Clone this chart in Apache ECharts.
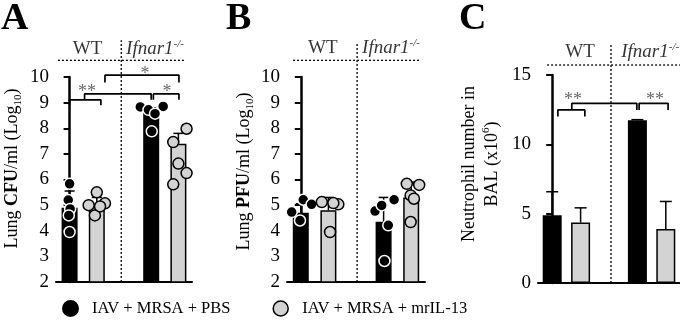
<!DOCTYPE html>
<html>
<head>
<meta charset="utf-8">
<script src="https://cdn.jsdelivr.net/npm/echarts@6/dist/echarts.min.js"></script>
<style>
  html, body { margin: 0; padding: 0; background: #fff; }
  #chart { width: 680px; height: 325px; }
</style>
</head>
<body>
<div id="chart"></div>
<script>
// groups along each x axis: WT pair, gap, Ifnar1-/- pair
var groups = ['WT PBS', 'WT mrIL-13', '', 'Ifnar1 PBS', 'Ifnar1 mrIL-13'];
var NAME_PBS = 'IAV + MRSA + PBS';
var NAME_IL13 = 'IAV + MRSA + mrIL-13';

// ---- A: lung CFU/ml (log10) ----
var cfuMean  = [4.9, 5.0, null, 8.6, 7.4];
var cfuUpper = [5.55, 5.3, null, 8.8, 7.8];
var cfuPbsPts  = [[0, 5.83], [-0.05, 5.2], [0.02, 4.85], [-0.03, 4.6], [0, 3.95],
                  [2.6, 8.83], [3.44, 8.85], [2.9, 8.72], [3.14, 8.57], [3.02, 7.88]];
var cfuIl13Pts = [[1.0, 5.5], [0.7, 5.0], [0.93, 4.6], [1.3, 5.07], [1.12, 4.95],
                  [4.3, 7.98], [3.81, 7.46], [4.0, 6.62], [4.3, 6.25], [3.81, 5.81]];

// ---- B: lung PFU/ml (log10) ----
var pfuMean  = [4.7, 4.8, null, 4.35, 5.3];
var pfuUpper = [5.05, 5.3, null, 5.3, 5.9];
var pfuPbsPts  = [[-0.33, 4.73], [0.09, 5.21], [-0.03, 4.4], [0.39, 5.03],
                  [2.69, 4.77], [2.93, 4.99], [3.38, 5.21], [3.17, 4.21], [3.03, 2.82]];
var pfuIl13Pts = [[0.76, 5.12], [1.36, 5.03], [1.06, 3.95], [1.18, 5.08],
                  [3.84, 5.83], [4.29, 5.79], [3.98, 5.38], [4.1, 5.25], [3.98, 4.34]];

// ---- C: neutrophils in BAL (x10^6) ----
var balMean  = [4.89, 4.36, null, 11.73, 3.9];
var balUpper = [6.58, 5.42, null, 11.78, 5.88];

// significance brackets (polylines in data units) and their stars
var cfuBrackets = [
  [[0, 8.9], [0, 9.11], [1.15, 9.11], [1.15, 8.9]],
  [[0.55, 9.11], [0.55, 9.34], [3.0, 9.34], [3.0, 9.11]],
  [[3.08, 9.11], [3.08, 9.34], [4.02, 9.34], [4.02, 9.11]],
  [[1.3, 9.79], [1.3, 10.07], [4.02, 10.07], [4.02, 9.79]]
];
var cfuStars = [[0.64, 9.42, '**'], [3.58, 9.42, '*'], [2.77, 10.12, '*']];
var balBrackets = [
  [[0.2, 12.0], [0.2, 12.48], [1.15, 12.48], [1.15, 12.0]],
  [[0.69, 12.48], [0.69, 12.96], [2.98, 12.96], [2.98, 12.48]],
  [[3.06, 12.48], [3.06, 12.96], [4.08, 12.96], [4.08, 12.48]]
];
var balStars = [[0.73, 13.2, '**'], [3.62, 13.2, '**']];

var FONT = '"Liberation Serif", "DejaVu Serif", serif';
var BLACK = '#000';
var GRAY = '#d3d3d3';

function pick(arr, idx) {
  return arr.map(function(v, i) { return (idx.indexOf(i) >= 0 && v != null) ? v : '-'; });
}

function errData(mean, upper) {
  var out = [];
  mean.forEach(function(v, i) { if (v != null) out.push([i, v, upper[i]]); });
  return out;
}

var panels = [
  {
    grid: { left: 56, top: 77, width: 136, height: 205 },
    min: 2, max: 10, interval: 1, barWidth: 16, cap: 5,
    name: '{n|Lung }{b|CFU}{n|/ml (Log}{s|10}{n|)}', nameGap: 32, namePad: [0, 0, 0, 22],
    mean: cfuMean, upper: cfuUpper, pbsPts: cfuPbsPts, il13Pts: cfuIl13Pts,
    brackets: cfuBrackets, stars: cfuStars,
    divider: 1.9, dividerTop: 11.43, rule: [-0.43, 4.24, 10.65],
    heads: [[0.66, 11.08, 'WT'], [3.14, 11.08, 'KO']]
  },
  {
    grid: { left: 287, top: 77, width: 138, height: 205 },
    min: 2, max: 10, interval: 1, barWidth: 16, cap: 5,
    name: '{n|Lung }{b|PFU}{n|/ml (Log}{s|10}{n|)}', nameGap: 31, namePad: [0, 0, 0, 16],
    mean: pfuMean, upper: pfuUpper, pbsPts: pfuPbsPts, il13Pts: pfuIl13Pts,
    brackets: [], stars: [],
    divider: 2.04, dividerTop: 11.35, rule: [-0.28, 4.32, 10.65],
    heads: [[0.8, 11.12, 'WT'], [3.27, 11.12, 'KO']]
  },
  {
    grid: { left: 538, top: 75, width: 142, height: 208 },
    min: 0, max: 15, interval: 5, barWidth: 19, cap: 6,
    name: '{n|Neutrophil number in}\n{n|BAL (x10}{p|6}{n|)}', nameGap: 34, namePad: [0, 0, 0, 30],
    mean: balMean, upper: balUpper, pbsPts: [], il13Pts: [],
    brackets: balBrackets, stars: balStars,
    divider: 2.07, dividerTop: 17.16, rule: [-0.18, 4.6, 15.72],
    heads: [[0.98, 16.65, 'WT'], [3.45, 16.65, 'KO']]
  }
];

var option = {
  animation: false,
  grid: [], xAxis: [], yAxis: [], series: [],
  legend: {
    left: 57, top: 295, itemWidth: 15, itemHeight: 15, itemGap: 42, selectedMode: false,
    textStyle: { fontFamily: FONT, fontSize: 16.5, color: BLACK, padding: [0, 0, 0, 9] },
    data: [
      { name: NAME_PBS, icon: 'circle', itemStyle: { color: BLACK, borderColor: BLACK } },
      { name: NAME_IL13, icon: 'circle', itemStyle: { color: GRAY, borderColor: BLACK, borderWidth: 1.5 } }
    ]
  },
  graphic: [
    { type: 'text', left: 1, top: 0, style: { text: 'A', font: 'bold 38px ' + FONT, fill: BLACK } },
    { type: 'text', left: 226, top: 0, style: { text: 'B', font: 'bold 38px ' + FONT, fill: BLACK } },
    { type: 'text', left: 459, top: 0, style: { text: 'C', font: 'bold 38px ' + FONT, fill: BLACK } }
  ]
};

var headRich = {
  n: { fontFamily: FONT, fontSize: 19, color: BLACK, lineHeight: 22 },
  i: { fontFamily: FONT, fontSize: 19, fontStyle: 'italic', color: BLACK, lineHeight: 22 },
  sup: { fontFamily: FONT, fontSize: 11, fontStyle: 'italic', color: BLACK, lineHeight: 11, verticalAlign: 'top' }
};

panels.forEach(function(p, k) {
  var cx = 2 * k, vx = 2 * k + 1;
  option.grid.push(p.grid);
  option.xAxis.push({
    type: 'category', gridIndex: k, data: groups,
    axisLine: { onZero: false, lineStyle: { color: BLACK, width: 2 } },
    axisTick: { show: false }, axisLabel: { show: false }
  });
  option.xAxis.push({ type: 'value', gridIndex: k, min: -0.5, max: 4.5, show: false });
  option.yAxis.push({
    type: 'value', gridIndex: k, min: p.min, max: p.max, interval: p.interval,
    splitLine: { show: false },
    axisLine: { show: true, lineStyle: { color: BLACK, width: 2.5 } },
    axisTick: { show: true, length: 6, lineStyle: { color: BLACK, width: 2 } },
    axisLabel: { fontFamily: FONT, fontSize: 19, color: BLACK, margin: 7 },
    name: p.name, nameLocation: 'middle', nameRotate: 90, nameGap: p.nameGap,
    nameTextStyle: {
      fontFamily: FONT, fontSize: 18, color: BLACK, lineHeight: 23, padding: p.namePad,
      rich: {
        n: { fontFamily: FONT, fontSize: 18, color: BLACK, lineHeight: 23 },
        b: { fontFamily: FONT, fontSize: 18, fontWeight: 'bold', color: BLACK, lineHeight: 23 },
        s: { fontFamily: FONT, fontSize: 11, color: BLACK, lineHeight: 12, verticalAlign: 'bottom' },
        p: { fontFamily: FONT, fontSize: 11, color: BLACK, lineHeight: 12, verticalAlign: 'top' }
      }
    }
  });

  // bars
  option.series.push({
    type: 'bar', xAxisIndex: cx, yAxisIndex: k, barWidth: p.barWidth, barGap: '-100%', z: 2,
    itemStyle: { color: BLACK }, data: pick(p.mean, [0, 3])
  });
  option.series.push({
    type: 'bar', xAxisIndex: cx, yAxisIndex: k, barWidth: p.barWidth, barGap: '-100%', z: 2,
    itemStyle: { color: GRAY, borderColor: BLACK, borderWidth: 1.5 }, data: pick(p.mean, [1, 4])
  });

  // upper error whiskers
  option.series.push({
    type: 'custom', xAxisIndex: vx, yAxisIndex: k, z: 3, silent: true,
    data: errData(p.mean, p.upper),
    renderItem: function(params, api) {
      var base = api.coord([api.value(0), api.value(1)]);
      var top = api.coord([api.value(0), api.value(2)]);
      var st = { stroke: BLACK, lineWidth: 1.5 };
      return { type: 'group', children: [
        { type: 'line', shape: { x1: top[0], y1: base[1], x2: top[0], y2: top[1] }, style: st },
        { type: 'line', shape: { x1: top[0] - p.cap, y1: top[1], x2: top[0] + p.cap, y2: top[1] }, style: st }
      ] };
    }
  });

  // individual animals
  if (p.pbsPts.length) {
    option.series.push({
      type: 'scatter', name: NAME_PBS, xAxisIndex: vx, yAxisIndex: k, z: 4, symbolSize: 11,
      itemStyle: { color: BLACK, borderColor: '#fff', borderWidth: 1.5, opacity: 1 }, data: p.pbsPts
    });
    option.series.push({
      type: 'scatter', name: NAME_IL13, xAxisIndex: vx, yAxisIndex: k, z: 4, symbolSize: 11,
      itemStyle: { color: GRAY, borderColor: BLACK, borderWidth: 1.5, opacity: 1 }, data: p.il13Pts
    });
  }

  // dotted genotype divider and header rule
  var dotted = { color: BLACK, width: 1.3, type: [2, 2] };
  option.series.push({
    type: 'line', xAxisIndex: vx, yAxisIndex: k, symbol: 'none', clip: false, silent: true, z: 1,
    lineStyle: dotted, data: [[p.divider, p.min], [p.divider, p.dividerTop]]
  });
  option.series.push({
    type: 'line', xAxisIndex: vx, yAxisIndex: k, symbol: 'none', clip: false, silent: true, z: 1,
    lineStyle: dotted, data: [[p.rule[0], p.rule[2]], [p.rule[1], p.rule[2]]]
  });

  // genotype headers
  option.series.push({
    type: 'scatter', xAxisIndex: vx, yAxisIndex: k, symbolSize: 0, clip: false, silent: true,
    data: p.heads,
    label: {
      show: true, position: 'inside', rich: headRich,
      formatter: function(d) { return d.data[2] === 'WT' ? '{n|WT}' : '{i|Ifnar1}{sup|-/-}'; }
    }
  });

  // significance brackets
  p.brackets.forEach(function(b) {
    option.series.push({
      type: 'line', xAxisIndex: vx, yAxisIndex: k, symbol: 'none', clip: false, silent: true, z: 5,
      lineStyle: { color: BLACK, width: 1.7 }, data: b
    });
  });
  if (p.stars.length) {
    option.series.push({
      type: 'scatter', xAxisIndex: vx, yAxisIndex: k, symbolSize: 0, clip: false, silent: true,
      data: p.stars,
      label: {
        show: true, position: 'inside', fontFamily: FONT, fontSize: 18, color: '#444',
        formatter: function(d) { return d.data[2]; }
      }
    });
  }
});

var chart = echarts.init(document.getElementById('chart'));
chart.setOption(option);
</script>
</body>
</html>
